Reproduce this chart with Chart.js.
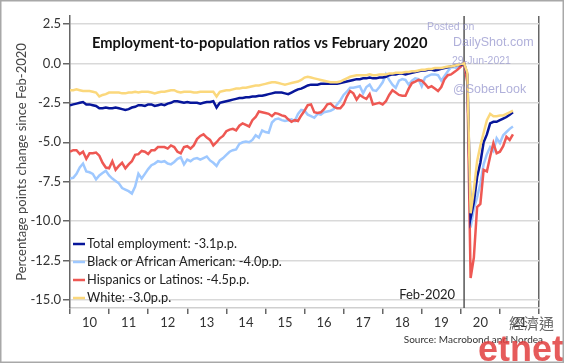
<!DOCTYPE html>
<html>
<head>
<meta charset="utf-8">
<script src="https://cdn.jsdelivr.net/npm/chart.js@4.4.1/dist/chart.umd.min.js"></script>
<style>
  html, body { margin: 0; padding: 0; background: #fff; }
  #wrap { width: 564px; height: 363px; }
</style>
</head>
<body>
<div id="wrap"><canvas id="chart" width="564" height="363"></canvas></div>
<script>
// monthly, Jan 2010 .. May 2021, change in pp vs Feb 2020
const startYear = 2010;
const breakMonth = 121; // Feb-2020

const totalEmp = [
  -2.65,-2.6,-2.55,-2.5,-2.45,-2.6,-2.6,-2.65,-2.7,-2.85,-2.85,-2.8,
  -2.85,-2.85,-2.8,-2.85,-2.9,-2.95,-2.9,-2.8,-2.75,-2.65,-2.65,-2.7,
  -2.6,-2.6,-2.7,-2.65,-2.6,-2.65,-2.55,-2.5,-2.4,-2.4,-2.45,-2.5,
  -2.45,-2.5,-2.5,-2.5,-2.55,-2.5,-2.45,-2.45,-2.4,-2.8,-2.5,-2.45,
  -2.4,-2.35,-2.3,-2.25,-2.2,-2.2,-2.15,-2.15,-2.1,-2.1,-2.05,-2.05,
  -2.0,-1.95,-1.9,-1.85,-1.85,-1.85,-1.9,-1.95,-1.85,-1.75,-1.65,-1.6,
  -1.5,-1.4,-1.35,-1.35,-1.35,-1.3,-1.3,-1.3,-1.3,-1.3,-1.3,-1.25,
  -1.2,-1.15,-1.1,-1.05,-1.0,-1.0,-0.95,-0.95,-0.9,-0.95,-0.95,-0.9,
  -0.9,-0.85,-0.75,-0.7,-0.7,-0.65,-0.65,-0.7,-0.65,-0.6,-0.55,-0.5,
  -0.45,-0.45,-0.4,-0.4,-0.45,-0.4,-0.35,-0.3,-0.25,-0.2,-0.15,-0.1,
  -0.1,0,-0.7,-9.8,-8.8,-7.2,-6.3,-5.0,-4.5,-3.8,-3.7,-3.7,
  -3.6,-3.5,-3.4,-3.25,-3.1
];
const blackAA = [
  -7.3,-7.25,-7.0,-6.6,-6.35,-6.85,-6.9,-7.0,-7.35,-7.1,-6.95,-6.8,
  -7.1,-7.3,-7.45,-7.6,-7.9,-8.0,-8.1,-8.25,-7.8,-7.0,-7.3,-7.0,
  -6.7,-6.45,-6.35,-6.2,-6.25,-6.2,-6.35,-6.4,-6.25,-6.05,-5.95,-6.4,
  -6.1,-6.2,-6.05,-6.0,-6.1,-6.0,-5.9,-6.15,-6.3,-6.5,-6.15,-6.0,
  -5.8,-5.6,-5.5,-5.45,-5.1,-5.0,-4.95,-5.0,-4.85,-4.55,-4.7,-4.25,
  -4.35,-4.4,-3.75,-3.55,-3.5,-3.6,-3.65,-3.6,-3.55,-3.65,-3.2,-2.95,
  -3.0,-3.25,-3.35,-3.45,-3.2,-3.25,-3.1,-3.05,-3.0,-2.9,-2.6,-2.35,
  -2.0,-1.8,-1.55,-1.55,-1.5,-1.45,-1.9,-1.5,-1.35,-1.7,-1.75,-1.5,
  -1.2,-0.7,-1.05,-1.35,-1.55,-1.1,-1.0,-1.05,-1.35,-1.1,-0.95,-1.0,
  -1.45,-0.9,-0.8,-0.7,-0.7,-0.75,-1.1,-0.8,-0.5,-0.25,-0.25,-0.3,
  -0.15,0,-0.9,-10.4,-9.2,-8.5,-7.6,-6.4,-5.75,-5.3,-5.55,-4.75,
  -5.05,-4.55,-4.35,-4.15,-4.0
];
const hispanic = [
  -5.6,-5.5,-5.5,-5.75,-5.6,-6.05,-5.7,-5.7,-5.65,-5.85,-6.3,-6.6,
  -6.65,-6.2,-6.75,-6.5,-6.3,-6.65,-6.4,-6.2,-5.8,-5.75,-5.55,-5.6,
  -5.75,-5.5,-5.5,-5.3,-5.3,-5.3,-5.4,-5.2,-5.3,-5.6,-5.7,-5.3,
  -5.25,-5.4,-5.2,-4.8,-4.6,-4.5,-4.7,-4.85,-5.2,-5.0,-4.75,-4.6,
  -4.3,-4.2,-4.15,-4.25,-3.95,-3.8,-3.9,-4.0,-3.6,-3.4,-3.05,-3.1,
  -3.15,-3.2,-3.35,-3.15,-3.2,-3.3,-3.35,-3.55,-3.7,-3.6,-3.65,-3.3,
  -3.0,-2.65,-2.6,-3.1,-3.15,-3.1,-2.9,-2.6,-2.55,-2.75,-2.85,-2.85,
  -2.6,-2.1,-1.75,-1.9,-2.3,-2.0,-2.15,-2.25,-1.95,-2.6,-2.55,-2.5,
  -2.6,-2.4,-2.0,-1.7,-1.85,-2.0,-2.05,-2.05,-1.6,-1.25,-1.15,-1.05,
  -1.1,-1.3,-1.55,-1.45,-1.6,-1.75,-1.5,-1.0,-0.75,-0.7,-0.55,-0.4,
  -0.2,0,-1.2,-13.6,-12.3,-9.1,-8.9,-6.75,-6.85,-5.9,-5.05,-5.7,
  -5.6,-5.25,-4.65,-4.85,-4.5
];
const white = [
  -1.7,-1.7,-1.65,-1.7,-1.75,-1.75,-1.75,-1.8,-1.85,-2.1,-2.0,-1.95,
  -1.85,-1.85,-1.85,-1.85,-1.9,-1.9,-1.85,-1.85,-1.8,-1.85,-1.8,-1.8,
  -1.8,-1.85,-1.9,-1.85,-1.8,-1.8,-1.75,-1.7,-1.7,-1.8,-1.85,-1.8,
  -1.8,-1.8,-1.85,-1.85,-1.8,-1.8,-1.8,-1.8,-1.8,-2.1,-1.8,-1.75,
  -1.7,-1.7,-1.65,-1.6,-1.6,-1.55,-1.55,-1.5,-1.45,-1.4,-1.4,-1.35,
  -1.3,-1.25,-1.2,-1.2,-1.25,-1.3,-1.35,-1.3,-1.25,-1.2,-1.15,-1.05,
  -0.9,-0.85,-0.9,-0.95,-1.0,-1.05,-1.1,-1.15,-1.2,-1.2,-1.2,-1.15,
  -1.05,-0.95,-0.85,-0.8,-0.75,-0.75,-0.75,-0.75,-0.7,-0.75,-0.75,-0.7,
  -0.7,-0.7,-0.65,-0.65,-0.6,-0.6,-0.6,-0.55,-0.55,-0.5,-0.5,-0.45,
  -0.4,-0.4,-0.35,-0.35,-0.3,-0.3,-0.3,-0.25,-0.2,-0.2,-0.15,-0.1,
  -0.05,0,-0.6,-9.5,-8.0,-6.2,-5.2,-4.4,-3.6,-3.2,-3.35,-3.35,
  -3.3,-3.3,-3.2,-3.1,-3.0
];

const yTicks = [-15, -12.5, -10, -7.5, -5, -2.5, 0, 2.5];
const yearLabels = ['10','11','12','13','14','15','16','17','18','19','20','21'];
const yMin = -15.5, yMax = 3.0;

const monthX = i => startYear + i / 12;
const toPoints = arr => arr.map((v, i) => ({ x: monthX(i), y: v }));
const lastOf = arr => arr[arr.length - 1].toFixed(1);

Chart.defaults.font.family = 'Lato';
Chart.defaults.color = '#333';

const decor = {
  id: 'decor',
  beforeDraw(chart) {
    const c = chart.ctx;
    c.save();
    c.fillStyle = '#fff';
    c.fillRect(0, 0, chart.width, chart.height);
    c.restore();
  },
  afterDatasetsDraw(chart) {
    const { ctx, chartArea: a, scales } = chart;
    ctx.save();
    ctx.textBaseline = 'middle';

    ctx.font = 'bold 14.7px Lato';
    ctx.fillStyle = '#111';
    ctx.textAlign = 'left';
    ctx.fillText('Employment-to-population ratios vs February 2020', a.left + 22, a.top + 27);

    ctx.font = '13px Lato';
    ctx.fillStyle = '#222';
    ctx.textAlign = 'right';
    ctx.fillText('Feb-2020', scales.x.getPixelForValue(monthX(breakMonth)) - 9, a.bottom - 13);

    const items = chart.data.datasets.filter(d => d.inLegend);
    items.forEach((d, i) => {
      const yy = a.bottom - 10 - (items.length - 1 - i) * 18;
      ctx.strokeStyle = d.borderColor;
      ctx.lineWidth = 2.5;
      ctx.beginPath();
      ctx.moveTo(a.left + 3, yy);
      ctx.lineTo(a.left + 15, yy);
      ctx.stroke();
      ctx.font = '12.8px Lato';
      ctx.fillStyle = '#222';
      ctx.textAlign = 'left';
      ctx.fillText(d.label, a.left + 17, yy);
    });
    ctx.restore();
  },
  afterDraw(chart) {
    const ctx = chart.ctx;
    ctx.save();
    ctx.textBaseline = 'middle';
    ctx.textAlign = 'left';
    ctx.fillStyle = 'rgba(150,150,205,0.75)';
    ctx.font = '10.5px "Liberation Sans"';
    ctx.fillText('Posted on', 427, 27);
    ctx.font = '12.5px "Liberation Sans"';
    ctx.fillText('DailyShot.com', 453, 43);
    ctx.font = '10.5px "Liberation Sans"';
    ctx.fillText('29-Jun-2021', 452, 61);
    ctx.font = '12.5px "Liberation Sans"';
    ctx.fillText('@SoberLook', 453, 90);

    ctx.fillStyle = '#666';
    ctx.font = '15px "Noto Sans CJK TC"';
    ctx.fillText('經濟通', 509, 323);

    ctx.fillStyle = '#333';
    ctx.font = '10px Lato';
    ctx.textAlign = 'right';
    ctx.fillText('Source: Macrobond and Nordea', 543, 340);

    ctx.textAlign = 'left';
    ctx.textBaseline = 'alphabetic';
    ctx.fillStyle = 'rgba(226,62,62,0.85)';
    ctx.font = 'bold 36px "Liberation Sans"';
    ctx.fillText('etnet', 478, 361);

    ctx.strokeStyle = '#a8a8a8';
    ctx.lineWidth = 1.5;
    ctx.strokeRect(0.75, 0.75, chart.width - 1.5, chart.height - 1.5);
    ctx.restore();
  }
};

const line = (label, data, color, order) => ({
  label: label + ': ' + lastOf(data) + 'p.p.',
  data: toPoints(data),
  borderColor: color,
  borderWidth: 2.5,
  pointRadius: 0,
  fill: false,
  order,
  inLegend: true
});

new Chart(document.getElementById('chart'), {
  type: 'line',
  data: {
    datasets: [
      line('Total employment', totalEmp, '#07169a', 1),
      line('Black or African American', blackAA, '#9ec8ff', 3),
      line('Hispanics or Latinos', hispanic, '#ee5853', 2),
      line('White', white, '#fbd87c', 0),
      {
        label: 'Feb-2020',
        data: [{ x: monthX(breakMonth), y: yMin }, { x: monthX(breakMonth), y: yMax }],
        borderColor: '#555',
        borderWidth: 1.5,
        pointRadius: 0,
        order: 5,
        inLegend: false
      }
    ]
  },
  options: {
    responsive: false,
    animation: false,
    events: [],
    layout: { padding: { top: 16, right: 25, left: 0, bottom: 0 } },
    plugins: { legend: { display: false }, tooltip: { enabled: false } },
    scales: {
      x: {
        type: 'linear',
        min: startYear,
        max: startYear + yearLabels.length,
        afterBuildTicks(s) {
          const t = [];
          for (let y = startYear; y <= startYear + yearLabels.length; y++) {
            t.push({ value: y });
            if (y < startYear + yearLabels.length) t.push({ value: y + 0.5 });
          }
          s.ticks = t;
        },
        afterFit(s) { s.height = 55; },
        ticks: {
          autoSkip: false,
          maxRotation: 0,
          padding: 1,
          font: { size: 13 },
          color: '#333',
          callback: v => Number.isInteger(v) ? '' : yearLabels[Math.floor(v) - startYear]
        },
        grid: {
          tickLength: 6,
          lineWidth: 1.5,
          color: c => (c.tick && c.tick.value === startYear + yearLabels.length) ? '#666' : 'rgba(0,0,0,0)',
          tickColor: c => (c.tick && Number.isInteger(c.tick.value)) ? '#666' : 'rgba(0,0,0,0)'
        },
        border: { color: '#cfcfcf', width: 1.5 }
      },
      y: {
        min: yMin,
        max: yMax,
        afterBuildTicks(s) { s.ticks = yTicks.map(v => ({ value: v })); },
        afterFit(s) { s.width = 70; },
        ticks: {
          padding: 2,
          font: { size: 13 },
          color: '#333',
          callback: v => v.toFixed(1)
        },
        grid: { color: '#d9d9d9', lineWidth: 1.5, tickLength: 7, tickColor: '#666' },
        border: { color: '#666', width: 1.5 },
        title: {
          display: true,
          text: 'Percentage points change since Feb-2020',
          font: { size: 13 },
          color: '#444',
          padding: { top: 14, bottom: 0 }
        }
      }
    }
  },
  plugins: [decor]
});
</script>
</body>
</html>
